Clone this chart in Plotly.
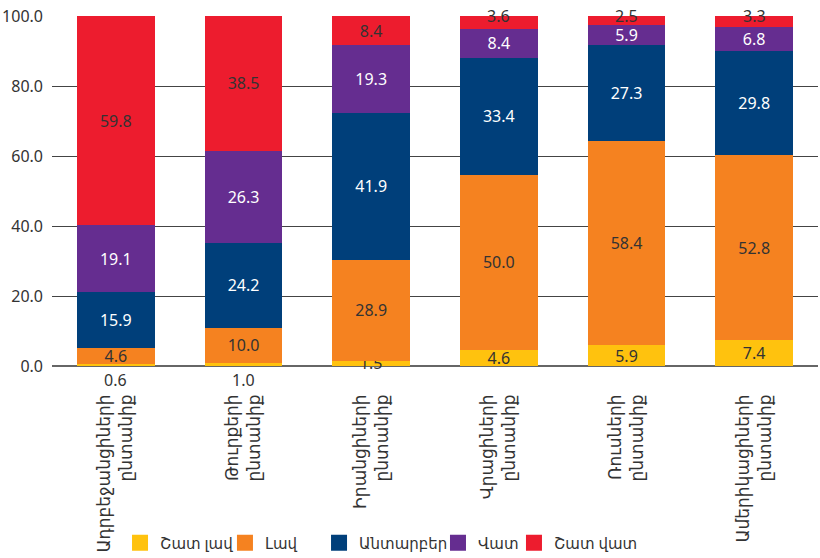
import plotly.graph_objects as go

categories = [
    "Ադրբեջանցիների<br>ընտանիք",
    "Թուրքերի<br>ընտանիք",
    "Իրանցիների<br>ընտանիք",
    "Վրացիների<br>ընտանիք",
    "Ռուսների<br>ընտանիք",
    "Ամերիկացիների<br>ընտանիք",
]
series_names = ["Շատ լավ", "Լավ", "Անտարբեր", "Վատ", "Շատ վատ"]
very_good = [0.6, 1.0, 1.5, 4.6, 5.9, 7.4]
good = [4.6, 10.0, 28.9, 50.0, 58.4, 52.8]
indifferent = [15.9, 24.2, 41.9, 33.4, 27.3, 29.8]
bad = [19.1, 26.3, 19.3, 8.4, 5.9, 6.8]
very_bad = [59.8, 38.5, 8.4, 3.6, 2.5, 3.3]
y_ticks = [0, 20, 40, 60, 80, 100]

series = [very_good, good, indifferent, bad, very_bad]
colors = ["#FFC20E", "#F58220", "#003F7A", "#652D90", "#ED1C2E"]
text_colors = ["#333333", "#333333", "#FFFFFF", "#FFFFFF", "#333333"]
legend_x = [0.0888, 0.2258, 0.3486, 0.5039, 0.6031]

FONT = "Noto Sans, DejaVu Sans, sans-serif"

fig = go.Figure()
legend_layouts = {}
for i, (name, vals, col, tcol) in enumerate(zip(series_names, series, colors, text_colors)):
    is_top = i == len(series) - 1
    texts = []
    for v in vals:
        if v < 1.2 or (is_top and v < 5):
            texts.append("")
        else:
            texts.append(f"{v:.1f}")
    fig.add_trace(go.Bar(
        x=categories, y=vals, name=name, legendgroup=name, showlegend=False,
        marker=dict(color=col, line=dict(width=0)),
        text=texts, textposition="inside", insidetextanchor="middle",
        textfont=dict(color=tcol, size=16, family=FONT),
        constraintext="none", cliponaxis=False,
    ))
    lg = "legend" if i == 0 else f"legend{i + 1}"
    # legend entry with a larger square swatch, each in its own legend box
    fig.add_trace(go.Scatter(
        x=[None], y=[None], mode="markers", name=name, legendgroup=name,
        marker=dict(symbol="square", size=20, color=col), showlegend=True,
        legend=lg,
    ))
    legend_layouts[lg] = dict(orientation="h", x=legend_x[i], xanchor="left",
                              y=-0.5057, yanchor="middle",
                              font=dict(size=15, family=FONT, color="#333333"),
                              itemwidth=30, bgcolor="rgba(0,0,0,0)")

# labels for very small bottom segments, placed under the axis
for c, v in zip(categories, very_good):
    if v < 1.2:
        fig.add_annotation(x=c, y=0, text=f"{v:.1f}", showarrow=False,
                           yanchor="top", yshift=-1,
                           font=dict(color="#333333", size=16, family=FONT))

# labels for thin top segments, centred on the top edge
for c, v in zip(categories, very_bad):
    if v < 5:
        fig.add_annotation(x=c, y=100, text=f"{v:.1f}", showarrow=False,
                           yanchor="middle",
                           font=dict(color="#333333", size=16, family=FONT))

fig.update_layout(
    barmode="stack",
    bargap=0.39,
    width=820, height=558,
    margin=dict(l=52, r=2, t=16, b=192, autoexpand=False),
    plot_bgcolor="white", paper_bgcolor="white",
    font=dict(family=FONT, color="#333333"),
    uniformtext=dict(minsize=16, mode="show"),
    **legend_layouts,
)
fig.update_yaxes(range=[0, 100], tickvals=y_ticks, tickformat=".1f",
                 showgrid=True, gridcolor="#444444", gridwidth=1,
                 zeroline=True, zerolinecolor="#666666", zerolinewidth=2,
                 tickfont=dict(size=16, family=FONT, color="#333333"),
                 ticks="", ticklabelstandoff=8, automargin=False)
fig.update_xaxes(tickangle=-90, tickfont=dict(size=17, family=FONT, color="#333333"),
                 showline=False, ticks="", ticklabelstandoff=24, automargin=False)

fig.write_html("out.html", config={"displayModeBar": False},
               post_script="document.body.style.margin='0';")
